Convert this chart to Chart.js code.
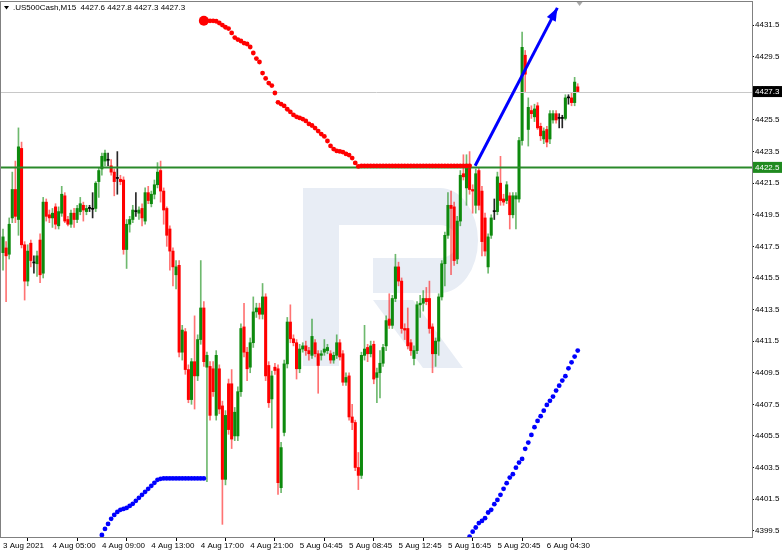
<!DOCTYPE html>
<html><head><meta charset="utf-8">
<script src="https://cdn.jsdelivr.net/npm/chart.js@4/dist/chart.umd.min.js"></script>
<style>html,body{margin:0;padding:0;background:#fff;overflow:hidden}#wrap{width:782px;height:555px}</style>
</head><body><div id="wrap"><canvas id="c" width="782" height="555"></canvas></div>
<script>
// ---- data (M15 bars, index 0 = first bar on screen) ----
const opens = [
4417.1,4417.4,4417.0,4419.3,4421.1,4419.2,4423.7,4417.6,4415.3,4417.7,
4416.45,4416.4,4417.9,4415.8,4420.3,4419.5,4419.3,4420.0,4418.8,4419.6,
4420.7,4419.2,4418.9,4419.6,4419.2,4419.7,4420.1,4419.7,4419.9,4419.85,
4419.9,4421.6,4422.4,4422.9,4422.95,4422.6,4422.2,4421.8,4421.75,4421.7,
4417.3,4418.9,4419.2,4419.7,4419.6,4419.9,4419.1,4420.9,4420.2,4420.8,
4421.4,4422.3,4421.0,4419.9,4418.6,4417.2,4415.7,4416.3,4410.8,4412.1,
4409.7,4407.8,4410.2,4409.3,4411.6,4413.6,4409.85,4409.9,4409.75,4406.8,
4409.75,4407.4,4402.75,4408.8,4408.8,4405.5,4405.5,4408.3,4412.4,4410.8,
4409.85,4411.4,4413.35,4413.6,4413.2,4414.3,4409.96,4407.84,4409.85,4409.75,
4402.22,4405.72,4410.06,4412.71,4411.65,4411.4,4409.75,4411.0,4411.2,4410.9,
4410.6,4411.4,4410.7,4410.6,4410.8,4410.9,4410.7,4410.3,4410.6,4411.4,
4410.7,4408.9,4409.3,4406.7,4406.35,4403.5,4403.0,4410.6,4411.1,4410.7,
4411.3,4409.2,4409.5,4410.1,4411.2,4412.9,4412.5,4414.2,4416.2,4415.3,
4412.3,4412.3,4411.4,4410.4,4410.9,4413.8,4413.9,4414.2,4414.2,4412.4,
4410.7,4411.5,4414.3,4416.4,4418.2,4420.1,4420.0,4416.7,4419.1,4422.1,
4421.2,4422.7,4421.1,4420.1,4422.3,4421.0,4419.3,4416.2,4418.2,4419.7,
4419.7,4421.5,4420.5,4420.4,4420.7,4419.5,4420.5,4420.5,4424.2,4429.6,
4424.9,4426.1,4425.7,4426.4,4425.1,4424.3,4424.9,4424.3,4425.5,4425.9,
4425.6,4425.6,4425.6,4426.9,4426.9,4426.6,4427.6];
const highs = [
4418.6,4417.8,4419.3,4422.2,4422.9,4425.0,4424.1,4417.8,4417.6,4417.9,
4416.9,4417.2,4418.3,4420.6,4420.5,4419.8,4419.9,4420.2,4420.0,4421.3,
4420.9,4419.4,4419.8,4419.9,4420.1,4420.6,4420.3,4420.1,4420.1,4420.9,
4421.6,4422.5,4423.4,4423.6,4423.4,4423.0,4422.4,4423.5,4422.0,4421.9,
4419.2,4419.4,4420.1,4420.9,4420.0,4420.2,4421.2,4421.3,4421.0,4421.7,
4422.8,4422.9,4421.2,4420.0,4418.8,4417.4,4416.6,4416.6,4412.5,4412.3,
4410.0,4410.4,4413.1,4411.9,4416.6,4414.0,4410.8,4410.2,4410.2,4410.9,
4410.0,4407.7,4407.1,4409.1,4409.7,4407.3,4408.6,4412.6,4413.9,4411.1,
4411.7,4414.3,4413.9,4413.9,4415.15,4414.5,4410.2,4409.6,4410.1,4410.0,
4405.1,4410.3,4413.0,4413.8,4411.9,4411.6,4411.3,4411.4,4411.5,4411.1,
4412.9,4411.6,4410.9,4410.9,4411.6,4411.3,4410.9,4410.8,4411.9,4411.6,
4410.9,4409.5,4409.5,4407.5,4406.5,4404.45,4410.8,4412.5,4411.3,4411.5,
4411.5,4409.8,4410.9,4411.3,4413.1,4414.5,4414.4,4417.0,4416.5,4415.5,
4412.6,4413.6,4411.6,4411.2,4414.0,4414.4,4414.7,4414.9,4415.3,4412.6,
4411.7,4414.5,4416.6,4418.4,4420.9,4421.0,4420.3,4419.4,4422.3,4423.3,
4423.3,4423.5,4421.4,4422.4,4422.5,4421.3,4419.6,4418.3,4419.5,4420.5,
4422.2,4423.2,4420.8,4421.6,4420.9,4420.9,4420.9,4424.4,4431.06,4429.9,
4426.9,4426.4,4426.5,4426.6,4425.3,4425.0,4425.1,4426.1,4426.1,4426.1,
4425.9,4425.8,4427.1,4427.1,4427.2,4428.2,4427.8];
const lows = [
4416.0,4414.0,4416.7,4419.0,4419.0,4418.2,4417.4,4414.1,4415.0,4416.2,
4415.8,4415.6,4415.2,4415.5,4419.1,4419.0,4418.7,4418.6,4418.6,4419.4,
4419.0,4418.8,4418.7,4418.7,4419.0,4419.5,4419.1,4419.5,4419.7,4419.3,
4419.7,4420.6,4422.0,4422.6,4422.6,4422.0,4420.7,4420.8,4421.4,4417.0,
4416.1,4418.4,4419.0,4419.4,4419.2,4418.8,4418.9,4420.2,4420.0,4420.5,
4421.2,4420.3,4418.9,4417.5,4416.0,4415.0,4414.8,4410.5,4410.3,4409.4,
4407.6,4407.5,4407.2,4409.0,4411.3,4409.9,4402.6,4406.5,4408.0,4406.5,
4406.9,4399.9,4402.4,4405.6,4404.7,4405.2,4405.2,4408.0,4410.5,4409.0,
4409.5,4411.1,4413.0,4412.9,4412.9,4409.0,4407.3,4406.0,4409.4,4401.8,
4401.9,4405.5,4409.8,4411.4,4411.2,4409.1,4409.5,4410.8,4410.6,4410.3,
4410.4,4410.5,4408.2,4410.3,4410.6,4410.7,4410.1,4410.1,4410.4,4410.3,
4408.7,4408.7,4406.5,4405.9,4403.3,4402.1,4402.8,4410.3,4410.2,4410.5,
4408.8,4407.6,4407.9,4409.9,4410.9,4412.3,4412.3,4414.0,4415.0,4412.0,
4411.6,4411.0,4410.6,4410.0,4410.7,4413.0,4413.4,4413.8,4412.0,4409.5,
4409.9,4410.6,4414.1,4415.0,4418.0,4415.7,4416.3,4416.4,4418.8,4421.7,
4420.1,4420.8,4419.6,4419.6,4419.8,4416.9,4416.9,4415.8,4418.0,4419.2,
4419.5,4420.1,4420.1,4420.2,4418.6,4419.3,4418.6,4420.3,4423.9,4427.3,
4423.85,4425.6,4425.4,4424.9,4424.2,4424.0,4423.8,4424.0,4425.3,4425.3,
4425.0,4425.0,4425.5,4426.5,4426.4,4426.4,4427.3];
const closes = [
4418.1,4416.9,4418.9,4421.1,4419.4,4423.8,4417.6,4415.3,4417.2,4416.6,
4416.45,4416.9,4415.7,4420.3,4419.4,4419.3,4419.6,4418.9,4419.7,4420.8,
4419.1,4418.9,4419.6,4419.2,4419.9,4420.2,4419.8,4419.9,4419.9,4419.85,
4421.5,4422.3,4423.2,4423.4,4422.95,4422.2,4421.6,4421.8,4421.6,4417.3,
4418.9,4419.2,4419.8,4419.7,4419.8,4419.3,4420.9,4420.4,4420.8,4421.4,
4422.2,4421.0,4419.8,4418.2,4417.2,4416.2,4416.2,4410.8,4412.2,4409.7,
4407.8,4410.2,4409.3,4411.6,4413.6,4410.2,4410.6,4406.8,4408.3,4410.6,
4407.2,4402.75,4406.8,4405.9,4405.3,4407.0,4408.3,4412.3,4410.8,4409.75,
4411.4,4413.35,4413.6,4413.2,4414.3,4409.3,4407.6,4409.3,4409.64,4402.54,
4404.76,4410.06,4412.71,4411.65,4411.4,4409.75,4411.0,4411.2,4410.9,4410.7,
4411.8,4410.7,4409.96,4410.7,4411.0,4411.1,4410.3,4410.6,4411.4,4410.5,
4408.9,4409.2,4406.7,4406.35,4403.5,4403.0,4410.6,4411.0,4410.7,4411.2,
4409.1,4409.5,4410.1,4411.1,4412.8,4412.5,4414.2,4416.2,4415.3,4412.3,
4412.2,4411.2,4410.9,4410.9,4413.8,4413.9,4414.2,4414.0,4412.3,4410.7,
4411.5,4414.3,4416.4,4418.2,4420.1,4419.9,4416.6,4419.1,4422.0,4421.9,
4422.7,4421.1,4421.0,4422.1,4420.1,4417.8,4417.2,4418.1,4419.3,4419.7,
4421.9,4420.4,4420.3,4421.4,4419.5,4420.7,4420.7,4424.2,4430.1,4428.4,
4426.3,4425.9,4426.2,4425.0,4424.5,4424.8,4424.1,4425.9,4425.9,4425.5,
4425.6,4425.6,4426.9,4426.9,4426.6,4427.9,4427.3];

const tickLabels = ['3 Aug 2021','4 Aug 05:00','4 Aug 09:00','4 Aug 13:00','4 Aug 17:00','4 Aug 21:00',
  '5 Aug 04:45','5 Aug 08:45','5 Aug 12:45','5 Aug 16:45','5 Aug 20:45','6 Aug 04:30'];
const barsPerLabel = 16;

// red dotted indicator, starts at bar 65
const redStart = 65;
const redDots = [
4431.78,4431.78,4431.78,4431.78,4431.75,4431.64,4431.51,4431.37,4431.29,4431.01,
4430.72,4430.59,4430.50,4430.37,4430.31,4430.12,4429.74,4429.39,4429.17,4428.47,
4428.13,4427.84,4427.68,4427.21,4426.62,4426.51,4426.39,4426.18,4426.01,4425.82,
4425.70,4425.63,4425.56,4425.44,4425.25,4425.15,4424.99,4424.80,4424.61,4424.46,
4424.17,4423.86,4423.66,4423.54,4423.51,4423.47,4423.35,4423.28,4423.09,4422.78,
4422.56,4422.6,4422.6,4422.6,4422.6,4422.6,4422.6,4422.6,4422.6,4422.6,
4422.6,4422.6,4422.6,4422.6,4422.6,4422.6,4422.6,4422.6,4422.6,4422.6,
4422.6,4422.6,4422.6,4422.6,4422.6,4422.6,4422.6,4422.6,4422.6,4422.6,
4422.6,4422.6,4422.6,4422.6,4422.6,4422.6,4422.6];
// blue dotted indicator (first run), starts at bar 32
const blueLeftStart = 32;
const blueLeft = [
4399.23,4399.61,4399.93,4400.25,4400.50,4400.69,4400.82,4400.88,4400.94,4401.07,
4401.20,4401.39,4401.58,4401.77,4401.96,4402.15,4402.34,4402.53,4402.72,4402.78,
4402.81,4402.81,4402.81,4402.81,4402.81,4402.81,4402.81,4402.81,4402.81,4402.81,
4402.81,4402.81,4402.81,4402.81];
// blue dotted indicator (second run), starts at bar 151
const blueRightStart = 151;
const blueRight = [
4399.13,4399.44,4399.70,4399.98,4400.12,4400.29,4400.65,4400.82,4401.18,4401.45,
4401.77,4402.15,4402.51,4402.86,4403.08,4403.49,4403.81,4404.04,4404.68,4405.08,
4405.56,4406.05,4406.45,4406.75,4407.10,4407.46,4407.72,4407.99,4408.37,4408.68,
4409.00,4409.28,4409.78,4410.16,4410.52,4410.90];

const levelLine = 4422.5;   // green horizontal level
const bidLine = 4427.3;     // current price
const arrowBars = [152.8, 179.4];
const arrowPrices = [4422.6, 4432.6];
const headerText = '.US500Cash,M15  4427.6 4427.8 4427.3 4427.3';

// ---- build datasets ----
const GREEN = '#0d8a0d', RED = '#ff0000', DOJI = '#000000';
const idx = opens.map((_, i) => i);
const candleColor = idx.map(i => closes[i] > opens[i] ? GREEN : (closes[i] < opens[i] ? RED : DOJI));
const wickColor = idx.map(i => closes[i] > opens[i] ? 'rgba(13,138,13,0.6)' : (closes[i] < opens[i] ? 'rgba(255,0,0,0.55)' : 'rgba(0,0,0,0.85)'));

const pts = (arr, start) => arr.map((v, k) => ({x: start + k, y: v}));

const FONT = "'Liberation Sans', Arial, sans-serif";

const decor = {
  id: 'decor',
  beforeDatasetsDraw(chart) {
    const c = chart.ctx;
    c.save();
    c.fillStyle = '#e8edf5';
    // watermark "R"
    c.fillRect(303, 188, 36, 178);
    c.beginPath();
    c.moveTo(339, 188); c.lineTo(440, 188);
    c.ellipse(440, 240.5, 38, 52.5, 0, -Math.PI/2, Math.PI/2, false);
    c.lineTo(373, 293); c.lineTo(373, 258); c.lineTo(440, 258);
    c.ellipse(440, 241.5, 17, 16.5, 0, Math.PI/2, -Math.PI/2, true);
    c.lineTo(339, 225); c.closePath(); c.fill();
    c.beginPath();
    c.moveTo(373, 300); c.lineTo(413, 300); c.lineTo(463, 368); c.lineTo(423, 368); c.closePath(); c.fill();
    c.restore();
  },
  afterDatasetDraw(chart, args) {
    if (args.meta.label !== 'bodies') return;
    const c = chart.ctx, a = chart.chartArea, y = chart.scales.y;
    c.save();
    c.beginPath(); c.rect(a.left, a.top, a.right - a.left, a.bottom - a.top); c.clip();
    let py = Math.round(y.getPixelForValue(bidLine)) + 0.5;
    c.strokeStyle = '#c8c8c8'; c.lineWidth = 1;
    c.beginPath(); c.moveTo(a.left, py); c.lineTo(a.right, py); c.stroke();
    py = y.getPixelForValue(levelLine);
    c.strokeStyle = '#2a8a2a'; c.lineWidth = 2;
    c.beginPath(); c.moveTo(a.left, py); c.lineTo(a.right, py); c.stroke();
    c.restore();
  },
  afterDatasetsDraw(chart) {
    const c = chart.ctx, x = chart.scales.x, y = chart.scales.y;
    // arrow head
    const x1 = x.getPixelForValue(arrowBars[0]), y1 = y.getPixelForValue(arrowPrices[0]);
    const x2 = x.getPixelForValue(arrowBars[1]), y2 = y.getPixelForValue(arrowPrices[1]);
    const ang = Math.atan2(y2 - y1, x2 - x1);
    const L = 13, W = 5;
    c.save();
    c.fillStyle = '#0000ff';
    c.beginPath();
    c.moveTo(x2, y2);
    c.lineTo(x2 - L*Math.cos(ang) + W*Math.sin(ang), y2 - L*Math.sin(ang) - W*Math.cos(ang));
    c.lineTo(x2 - L*Math.cos(ang) - W*Math.sin(ang), y2 - L*Math.sin(ang) + W*Math.cos(ang));
    c.closePath(); c.fill();
    // small grey marker at top
    const mx = x.getPixelForValue(186.6);
    c.fillStyle = '#a8a8a8';
    c.beginPath(); c.moveTo(mx - 3, 2); c.lineTo(mx + 3, 2); c.lineTo(mx, 6); c.closePath(); c.fill();
    c.restore();
  },
  afterDraw(chart) {
    const c = chart.ctx, a = chart.chartArea, y = chart.scales.y;
    c.save();
    // frame
    c.strokeStyle = '#808080'; c.lineWidth = 1;
    c.strokeRect(a.left - 0.5, a.top - 0.5, a.right - a.left + 1, a.bottom - a.top + 1);
    // price boxes on the axis
    c.font = '8px ' + FONT; c.textBaseline = 'middle'; c.textAlign = 'left';
    let py = y.getPixelForValue(bidLine);
    c.fillStyle = '#000'; c.fillRect(a.right + 1, py - 5.5, 29, 11);
    c.fillStyle = '#fff'; c.fillText(bidLine.toFixed(1), a.right + 3, py + 0.5);
    py = y.getPixelForValue(levelLine);
    c.fillStyle = '#1f8a1f'; c.fillRect(a.right + 1, py - 5.5, 29, 11);
    c.fillStyle = '#fff'; c.fillText(levelLine.toFixed(1), a.right + 3, py + 0.5);
    // header
    c.fillStyle = '#000';
    c.beginPath(); c.moveTo(4, 6); c.lineTo(9, 6); c.lineTo(6.5, 9.5); c.closePath(); c.fill();
    c.font = '8px ' + FONT; c.textBaseline = 'middle';
    c.fillText(headerText, 13, 8);
    c.restore();
  }
};

new Chart(document.getElementById('c'), {
  type: 'bar',
  data: {
    datasets: [
      { type: 'line', label: 'arrow', data: arrowBars.map((b, k) => ({x: b, y: arrowPrices[k]})),
        borderColor: '#0000ff', borderWidth: 3, pointRadius: 0, order: 0, clip: false },
      { type: 'line', label: 'red', data: pts(redDots, redStart), showLine: false,
        pointRadius: ctx => ctx.dataIndex === 0 ? 5 : 2.4, pointBackgroundColor: '#ff0000',
        pointBorderWidth: 0, order: 1 },
      { type: 'line', label: 'blueL', data: pts(blueLeft, blueLeftStart), showLine: false,
        pointRadius: 2.4, pointBackgroundColor: '#0000ff', pointBorderWidth: 0, order: 1 },
      { type: 'line', label: 'blueR', data: pts(blueRight, blueRightStart), showLine: false,
        pointRadius: 2.4, pointBackgroundColor: '#0000ff', pointBorderWidth: 0, order: 1 },
      { label: 'bodies', data: idx.map(i => ({x: i, y: [opens[i], closes[i]]})),
        backgroundColor: candleColor, barThickness: 2.4, minBarLength: 1, grouped: false, order: 2 },
      { label: 'wicks', data: idx.map(i => ({x: i, y: [lows[i], highs[i]]})),
        backgroundColor: wickColor, barThickness: 1, grouped: false, order: 3 }
    ]
  },
  options: {
    responsive: false, animation: false, devicePixelRatio: 1,
    layout: { autoPadding: false, padding: { left: 1, top: 2, right: 0, bottom: 0 } },
    plugins: { legend: { display: false }, tooltip: { enabled: false } },
    scales: {
      x: {
        type: 'linear', min: -0.65, max: 242.4, offset: false,
        afterBuildTicks: s => { s.ticks = tickLabels.map((_, i) => ({ value: i * barsPerLabel })); },
        afterFit: s => { s.height = 18; s.paddingLeft = 0; s.paddingRight = 0; },
        grid: { drawOnChartArea: false, drawTicks: true, tickLength: 4, color: '#000' },
        border: { display: true, color: '#808080' },
        ticks: { autoSkip: false, maxRotation: 0, minRotation: 0, align: 'start', padding: 0,
          color: '#000', font: { size: 8, family: FONT },
          callback: v => tickLabels[Math.round(v / barsPerLabel)] }
      },
      y: {
        type: 'linear', position: 'right', min: 4399.1, max: 4432.97,
        afterBuildTicks: s => { const t = []; for (let v = 4399.5; v <= 4431.6; v += 2) t.push({ value: v }); s.ticks = t; },
        afterFit: s => { s.width = 30; s.paddingTop = 0; s.paddingBottom = 0; },
        grid: { drawOnChartArea: false, drawTicks: true, tickLength: 2, color: '#000' },
        border: { display: true, color: '#808080' },
        ticks: { padding: 1, color: '#000', font: { size: 8, family: FONT },
          callback: v => Number(v).toFixed(1) }
      }
    }
  },
  plugins: [decor]
});
</script>
</body></html>
